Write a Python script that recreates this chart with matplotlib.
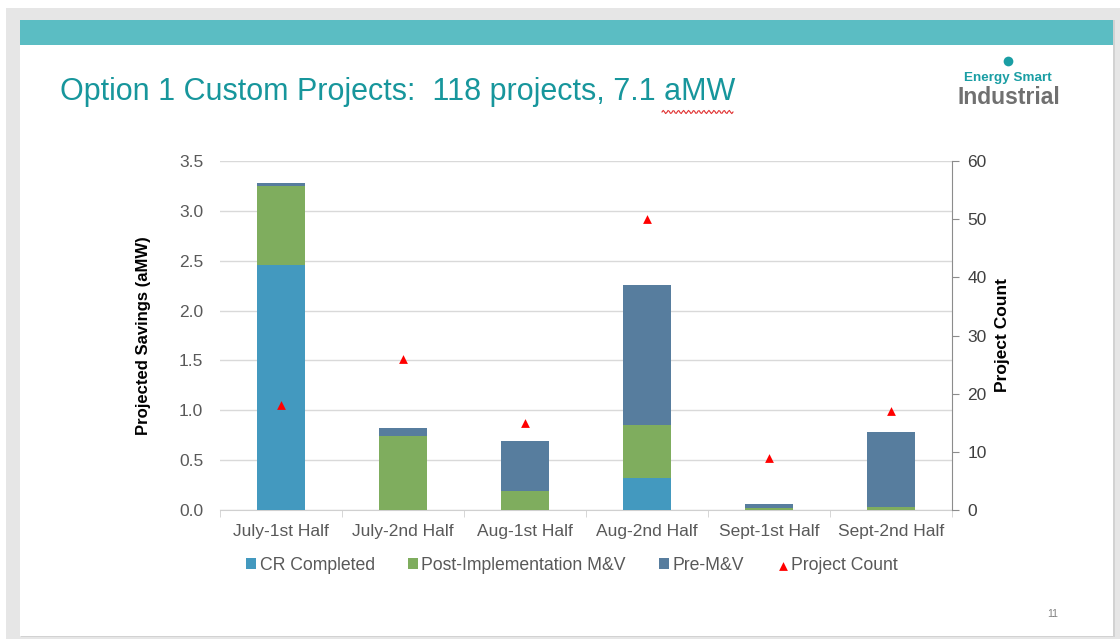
import matplotlib
matplotlib.use("Agg")
import matplotlib.pyplot as plt
import numpy as np
from matplotlib.patches import Rectangle
from matplotlib.lines import Line2D

plt.rcParams['font.family'] = ['Liberation Sans', 'DejaVu Sans']

categories = ["July-1st Half", "July-2nd Half", "Aug-1st Half", "Aug-2nd Half",
              "Sept-1st Half", "Sept-2nd Half"]
cr_completed = [2.46, 0.0, 0.0, 0.32, 0.0, 0.0]
post_mv = [0.79, 0.745, 0.19, 0.53, 0.02, 0.03]
pre_mv = [0.03, 0.08, 0.505, 1.41, 0.04, 0.75]
project_count = [18, 26, 15, 50, 9, 17]

W, H = 1120, 639
fig = plt.figure(figsize=(W / 100, H / 100), dpi=100)
fig.patch.set_facecolor('white')

def fx(px):
    return px / W

def fy(py):
    return 1 - py / H

# slide background / border
fig.patches.append(Rectangle((fx(6), fy(639)), fx(1120 - 6), fy(8) - fy(639),
                             transform=fig.transFigure, facecolor='#e6e6e6', edgecolor='none', zorder=0))
fig.patches.append(Rectangle((fx(21), fy(637)), fx(1115 - 21), fy(20) - fy(637),
                             transform=fig.transFigure, facecolor='#d2d2d2', edgecolor='none', zorder=0.5))
fig.patches.append(Rectangle((fx(20), fy(636)), fx(1113 - 20), fy(20) - fy(636),
                             transform=fig.transFigure, facecolor='white', edgecolor='none', zorder=1))
fig.patches.append(Rectangle((fx(20), fy(45)), fx(1113 - 20), fy(20) - fy(45),
                             transform=fig.transFigure, facecolor='#5bbdc3', edgecolor='none', zorder=1.1))

# title
fig.text(fx(60), fy(92), "Option 1 Custom Projects:  118 projects, 7.1 aMW",
         fontsize=22, color='#17969c', va='center', ha='left', zorder=3)
# spell-check squiggle
sx = np.linspace(fx(662), fx(733), 60)
sy = fy(112) + 0.0025 * np.sin(np.linspace(0, 2 * np.pi * 14, 60))
fig.lines.append(Line2D(sx, sy, transform=fig.transFigure, color='#e03030', lw=0.8, zorder=3))

# logo
fig.lines.append(Line2D([fx(1008)], [fy(61)], transform=fig.transFigure, marker='o',
                        markersize=7, color='#1a9ea4', markeredgewidth=0, zorder=3))
fig.text(fx(1008), fy(78), "Energy Smart", fontsize=9.7, fontweight='bold', color='#1a9ea4',
         ha='center', va='center', zorder=3)
fig.text(fx(1009), fy(97), "Industrial", fontsize=16.5, fontweight='bold', color='#707070',
         ha='center', va='center', zorder=3)

# page number
fig.text(fx(1053), fy(614), "11", fontsize=7.5, color='#808080', ha='center', va='center', zorder=3)

# chart
ax = fig.add_axes([fx(220), fy(510), fx(952) - fx(220), fy(161) - fy(510)])
ax.set_zorder(4)
ax.patch.set_alpha(0)
x = np.arange(len(categories))
bw = 0.4
c_cr, c_post, c_pre = '#4399bf', '#7fad5e', '#577d9e'
b1 = ax.bar(x, cr_completed, bw, color=c_cr, label='CR Completed', zorder=3)
b2 = ax.bar(x, post_mv, bw, bottom=cr_completed, color=c_post,
            label='Post-Implementation M&V', zorder=3)
bottom2 = [a + b for a, b in zip(cr_completed, post_mv)]
b3 = ax.bar(x, pre_mv, bw, bottom=bottom2, color=c_pre, label='Pre-M&V', zorder=3)

ax.set_xlim(-0.5, len(categories) - 0.5)
ax.set_ylim(0, 3.5)
ax.set_yticks(np.arange(0, 3.51, 0.5))
ax.set_yticklabels([f"{v:.1f}" for v in np.arange(0, 3.51, 0.5)])
ax.grid(axis='y', color='#d9d9d9', lw=1, zorder=0)
ax.set_axisbelow(True)
for s in ['top', 'right', 'left']:
    ax.spines[s].set_visible(False)
ax.spines['bottom'].set_color('#d0d0d0')
ax.tick_params(axis='y', length=0, labelsize=12.5, labelcolor='#595959', pad=12)
ax.set_xticks(x)
ax.set_xticklabels(categories)
ax.set_xticks(np.arange(-0.5, len(categories), 1), minor=True)
ax.tick_params(axis='x', which='major', length=0, labelsize=12.5, labelcolor='#595959', pad=10)
ax.tick_params(axis='x', which='minor', length=5, color='#d0d0d0')
ax.set_ylabel("Projected Savings (aMW)", fontsize=12, fontweight='bold', color='black', labelpad=20)

ax2 = ax.twinx()
ax2.set_ylim(0, 60)
ax2.set_yticks(np.arange(0, 61, 10))
tri = ax2.scatter(x, project_count, marker='^', color='#ff0000', s=40, zorder=5,
                  label='Project Count', linewidths=0)
for s in ['top', 'left', 'bottom']:
    ax2.spines[s].set_visible(False)
ax2.spines['right'].set_color('#8c8c8c')
ax2.tick_params(axis='y', length=5, color='#8c8c8c', labelsize=12.5, labelcolor='#404040', pad=6)
ax2.set_ylabel("Project Count", fontsize=12.5, fontweight='bold', color='black', labelpad=6)

handles = [b1, b2, b3, tri]
labels = ['CR Completed', 'Post-Implementation M&V', 'Pre-M&V', 'Project Count']
leg = fig.legend(handles, labels, loc='center', bbox_to_anchor=(fx(572), fy(565)), ncol=4,
                 frameon=False, fontsize=12.7, handlelength=0.55, handleheight=0.55,
                 handletextpad=0.2, columnspacing=1.9, labelcolor='#595959')
leg.set_zorder(5)

fig.savefig("out.png", dpi=100)
